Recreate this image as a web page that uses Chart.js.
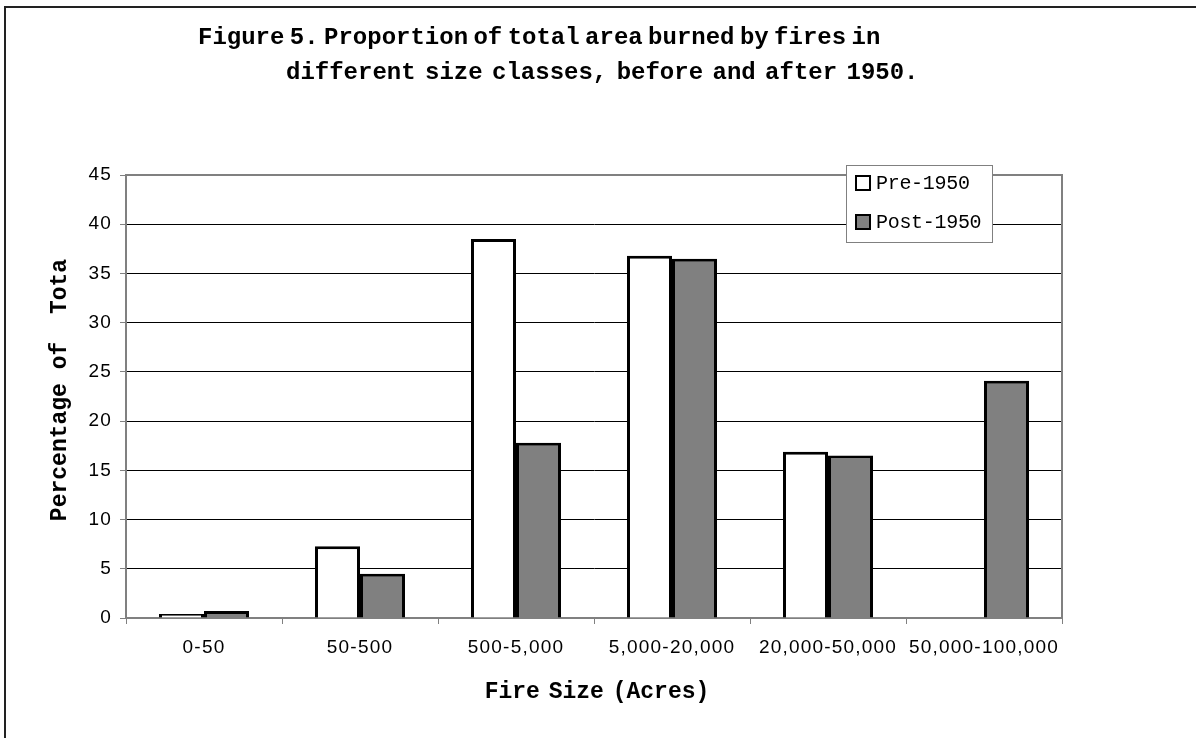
<!DOCTYPE html>
<html>
<head>
<meta charset="utf-8">
<script src="https://cdn.jsdelivr.net/npm/chart.js@4"></script>
<style>
    html, body { margin: 0; padding: 0; background: #fff; overflow: hidden; }
    #wrap { position: relative; width: 1196px; height: 738px; }
    #frame { position: absolute; left: 4px; top: 6px; width: 1300px; height: 800px;
             border-top: 2px solid #222; border-left: 2px solid #222; pointer-events: none; }
    .title { position: absolute; font-family: "Liberation Mono", monospace; font-weight: bold;
             font-size: 24px; color: #000; white-space: nowrap; line-height: 1; }
    #ytitle { position: absolute; left: 60px; top: 390px; transform: translate(-50%, -50%) rotate(-90deg);
              font-family: "Liberation Mono", monospace; font-weight: bold; font-size: 23px;
              white-space: pre; color: #000; }
    #xtitle { position: absolute; left: 597px; top: 692px; transform: translate(-50%, -50%);
              font-family: "Liberation Mono", monospace; font-weight: bold; font-size: 23px;
              word-spacing: -5px; white-space: nowrap; color: #000; }
    #legend { position: absolute; left: 846px; top: 165px; width: 145px; height: 76px;
              border: 1px solid #808080; background: #fff;
              font-family: "Liberation Mono", monospace; font-size: 20px; letter-spacing: -0.3px; color: #000; }
    .item { position: absolute; left: 8px; height: 20px; line-height: 20px; white-space: pre; }
    .swatch { display: inline-block; width: 12px; height: 12px; border: 2px solid #000;
              vertical-align: -2px; margin-right: 5px; }
</style>
</head>
<body>
<div id="wrap">
    <canvas id="chart-fires" width="1196" height="738"></canvas>
    <div id="frame"></div>
    <div class="title" style="left:198px; top:26px; word-spacing:-9px;">Figure 5. Proportion of total area burned by fires in</div>
    <div class="title" style="left:286px; top:61px; word-spacing:-5px;">different size classes, before and after 1950.</div>
    <div id="ytitle">Percentage of  Tota</div>
    <div id="xtitle">Fire Size (Acres)</div>
    <div id="legend">
        <div class="item" style="top:8px;"><span class="swatch" style="background:#fff"></span>Pre-1950</div>
        <div class="item" style="top:47px;"><span class="swatch" style="background:#808080"></span>Post-1950</div>
    </div>
</div>
<script>
const sizeClasses = ['0-50', '50-500', '500-5,000', '5,000-20,000', '20,000-50,000', '50,000-100,000'];
const pre1950 = [0.4, 7.3, 38.5, 36.8, 16.9, null];
const post1950 = [0.7, 4.5, 17.8, 36.5, 16.5, 24.1];
const yTicks = [0, 5, 10, 15, 20, 25, 30, 35, 40, 45];

// gray box round the plot area
const plotFrame = {
    id: 'plotFrame',
    beforeDatasetsDraw(chart) {
        const a = chart.chartArea, ctx = chart.ctx;
        ctx.save();
        ctx.strokeStyle = '#808080';
        ctx.lineWidth = 2;
        ctx.strokeRect(a.left, a.top, a.right - a.left, a.bottom - a.top);
        ctx.restore();
    },
};

// the original labels are drawn a little wide
const wideText = {
    id: 'wideText',
    beforeDraw(chart) { chart.ctx.letterSpacing = '1.2px'; },
    afterDraw(chart) { chart.ctx.letterSpacing = '0px'; },
};

new Chart(document.getElementById('chart-fires'), {
    type: 'bar',
    data: {
        labels: sizeClasses,
        datasets: [
            {
                label: 'Pre-1950',
                data: pre1950,
                backgroundColor: '#ffffff',
                borderColor: '#000000',
                borderWidth: 3,
            },
            {
                label: 'Post-1950',
                data: post1950,
                backgroundColor: '#808080',
                borderColor: '#000000',
                borderWidth: 3,
            },
        ],
    },
    options: {
        responsive: false,
        animation: false,
        categoryPercentage: 0.577,
        barPercentage: 1.0,
        layout: { padding: { top: 175, right: 134, left: 0, bottom: 0 } },
        plugins: {
            legend: { display: false },
            tooltip: { enabled: false },
        },
        scales: {
            y: {
                min: 0,
                max: 45,
                afterFit: s => { s.width = 126; },
                afterBuildTicks: s => { s.ticks = yTicks.map(v => ({ value: v })); },
                grid: {
                    color: ctx => ctx.tick && ctx.tick.value === 45 ? '#808080' : '#000000',
                    lineWidth: 1,
                    tickLength: 6,
                    tickColor: '#808080',
                },
                border: { color: '#808080', width: 2 },
                ticks: {
                    color: '#000',
                    padding: 8,
                    font: { family: 'Liberation Sans', size: 19 },
                },
            },
            x: {
                afterFit: s => { s.height = 120; },
                grid: {
                    offset: true,
                    drawOnChartArea: false,
                    tickLength: 6,
                    tickColor: '#808080',
                },
                border: { color: '#808080', width: 2 },
                ticks: {
                    color: '#000',
                    padding: 12,
                    maxRotation: 0,
                    autoSkip: false,
                    font: { family: 'Liberation Sans', size: 19 },
                },
            },
        },
    },
    plugins: [plotFrame, wideText],
});
</script>
</body>
</html>
